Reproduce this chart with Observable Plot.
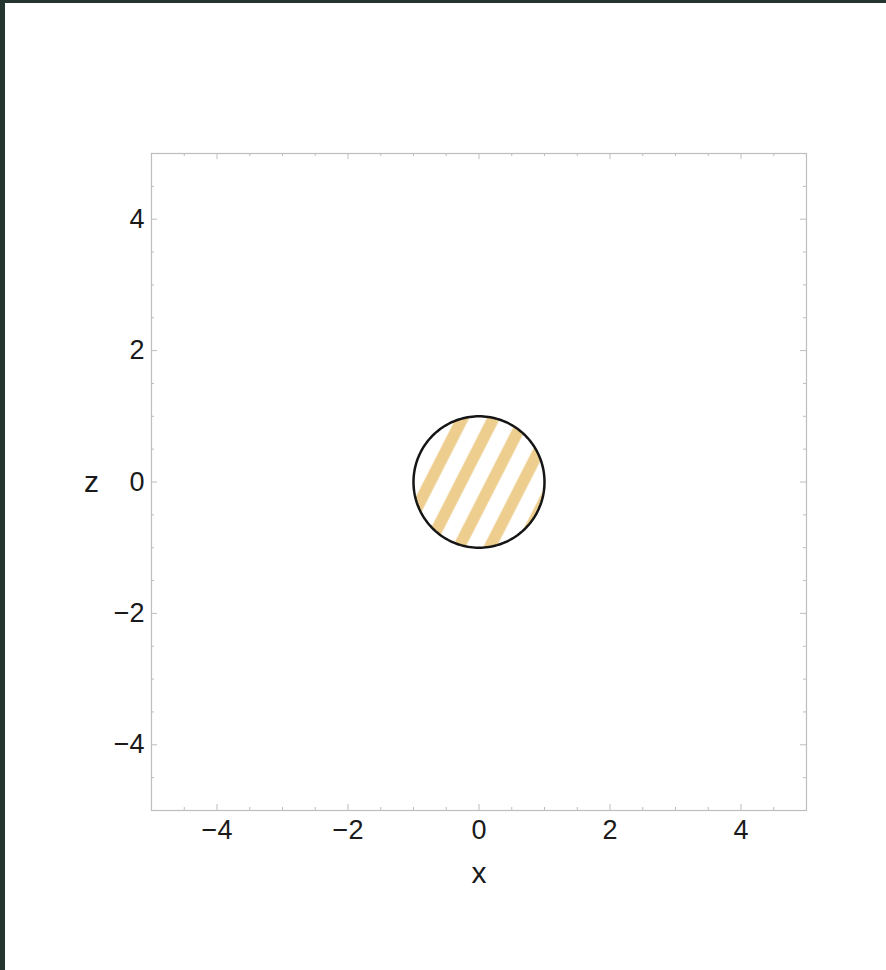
<!DOCTYPE html>
<html>
<head>
<meta charset="utf-8">
<script src="https://cdn.jsdelivr.net/npm/d3@7"></script>
<script src="https://cdn.jsdelivr.net/npm/@observablehq/plot@0.6"></script>
<style>
  html, body { margin: 0; padding: 0; background: #25352f; overflow: hidden; }
  #wrap { position: absolute; left: 5px; top: 3px; width: 881px; height: 967px; background: #ffffff; }
</style>
</head>
<body>
<div id="wrap"></div>
<script>
// ---- data ----
const xDomain = [-5, 5];
const zDomain = [-5, 5];
const majorTicks = [-4, -2, 0, 2, 4];
const majorTickLabels = ["−4", "−2", "0", "2", "4"];
const minorTicks = [-4.5, -3.5, -3, -2.5, -1.5, -1, -0.5, 0.5, 1, 1.5, 2.5, 3, 3.5, 4.5];
const circleCenter = [0, 0];   // x, z
const circleRadius = 1;
const axisLabelX = "x";
const axisLabelZ = "z";

// ---- styles ----
const stripeColor = "#edce8f";
const frameColor = "#bdbdbd";
const textColor = "#1a1a1a";

const width = 881, height = 967;
const marginLeft = 146, marginRight = 80, marginTop = 150, marginBottom = 160;
const frameW = width - marginLeft - marginRight;
const frameH = height - marginTop - marginBottom;
const majorLen = 6, minorLen = 3;

// circle outline (geometry of the disk)
const circlePts = d3.range(0, 361, 2).map(a => ({
  x: circleCenter[0] + circleRadius * Math.cos(a * Math.PI / 180),
  z: circleCenter[1] + circleRadius * Math.sin(a * Math.PI / 180)
}));

const labelOf = v => majorTickLabels[majorTicks.indexOf(v)];

const chart = Plot.plot({
  width, height, marginLeft, marginRight, marginTop, marginBottom,
  style: { background: "#ffffff", fontFamily: "'Liberation Sans', Arial, sans-serif", color: textColor },
  x: { domain: xDomain },
  y: { domain: zDomain },
  marks: [
    Plot.line(circlePts, { x: "x", y: "z", fill: "url(#stripes)", stroke: "#151515", strokeWidth: 2.5 }),
    Plot.frame({ stroke: frameColor, strokeWidth: 1.2 }),
    // major ticks (inward, all four sides)
    Plot.ruleX(majorTicks, { x: d => d, insetTop: frameH - majorLen, stroke: frameColor }),
    Plot.ruleX(majorTicks, { x: d => d, insetBottom: frameH - majorLen, stroke: frameColor }),
    Plot.ruleY(majorTicks, { y: d => d, insetRight: frameW - majorLen, stroke: frameColor }),
    Plot.ruleY(majorTicks, { y: d => d, insetLeft: frameW - majorLen, stroke: frameColor }),
    // minor ticks
    Plot.ruleX(minorTicks, { x: d => d, insetTop: frameH - minorLen, stroke: frameColor }),
    Plot.ruleX(minorTicks, { x: d => d, insetBottom: frameH - minorLen, stroke: frameColor }),
    Plot.ruleY(minorTicks, { y: d => d, insetRight: frameW - minorLen, stroke: frameColor }),
    Plot.ruleY(minorTicks, { y: d => d, insetLeft: frameW - minorLen, stroke: frameColor }),
    // tick labels
    Plot.axisX(majorTicks, { anchor: "bottom", tickSize: 0, tickPadding: 9, fontSize: 27, tickFormat: labelOf, label: null }),
    Plot.axisY(majorTicks, { anchor: "left", tickSize: 0, tickPadding: 7, fontSize: 27, tickFormat: labelOf, label: null }),
    // axis titles
    Plot.text([axisLabelX], { text: d => d, frameAnchor: "bottom", dy: 63, lineAnchor: "middle", fontSize: 30, fill: textColor }),
    Plot.text([axisLabelZ], { text: d => d, frameAnchor: "left", dx: -60, textAnchor: "middle", lineAnchor: "middle", fontSize: 30, fill: textColor })
  ]
});

// stripe pattern anchored at the circle centre
const cx = chart.scale("x").apply(circleCenter[0]);
const cy = chart.scale("y").apply(circleCenter[1]);
const period = 27.6, stripeW = 11.8;
const defs = d3.select(chart).insert("defs", ":first-child");
const pat = defs.append("pattern")
  .attr("id", "stripes")
  .attr("patternUnits", "userSpaceOnUse")
  .attr("width", period)
  .attr("height", period)
  .attr("patternTransform", `translate(${cx},${cy}) rotate(27)`);
pat.append("rect").attr("width", period).attr("height", period).attr("fill", "#ffffff");
pat.append("rect").attr("x", 5.7).attr("width", stripeW).attr("height", period).attr("fill", stripeColor);

document.getElementById("wrap").appendChild(chart);
</script>
</body>
</html>
